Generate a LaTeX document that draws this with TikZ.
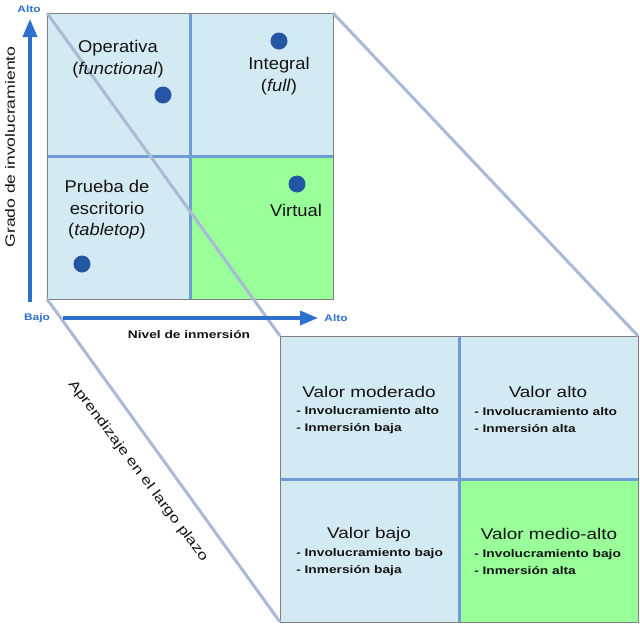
\documentclass[tikz,border=0pt]{standalone}
\usepackage{fontspec}
\setmainfont{Liberation Sans}
\usetikzlibrary{arrows.meta, positioning}

\definecolor{cellblue}{RGB}{212,234,242}
\definecolor{cellgreen}{RGB}{153,255,153}
\definecolor{splitblue}{RGB}{112,156,214}
\definecolor{linkgray}{RGB}{168,186,214}
\definecolor{axisblue}{RGB}{45,112,205}
\definecolor{dotblue}{RGB}{36,86,164}
\definecolor{inkblack}{RGB}{20,20,20}

\begin{document}
\begin{tikzpicture}[
        x=1pt, y=-1pt,
        square/.style={fill=cellblue, inner sep=0pt, outer sep=0pt},
        frame/.style={draw=gray, line width=0.8pt},
        split/.style={draw=splitblue, line width=3pt},
        link/.style={draw=linkgray, line width=3pt},
        axis/.style={draw=axisblue, line width=3.5pt, -{Triangle[length=18pt, width=14pt]}},
        dot/.style={circle, fill=dotblue, minimum size=17pt, inner sep=0pt},
        quadtext/.style={align=center, text=inkblack, font=\fontsize{17}{21.5}\selectfont, xscale=1.08, transform shape},
        valtitle/.style={text=inkblack, font=\fontsize{15.5}{18}\selectfont, xscale=1.22, transform shape},
        valitem/.style={align=left, anchor=west, inner sep=0pt, text=inkblack, font=\bfseries\fontsize{11}{17}\selectfont, xscale=1.25, transform shape},
        axislbl/.style={text=axisblue, font=\bfseries\fontsize{9.5}{11}\selectfont, xscale=1.25, transform shape},
        axistitle/.style={text=inkblack, font=\bfseries\fontsize{11}{12}\selectfont, xscale=1.25, transform shape},
        uptitle/.style={rotate=90, text=inkblack, font=\fontsize{13.5}{15}\selectfont, xscale=1.3, transform shape},
        slanttitle/.style={rotate=-53, text=inkblack, font=\fontsize{13.5}{15}\selectfont, xscale=1.28, transform shape}
    ]
    \useasboundingbox (0,0) rectangle (640,625);

    % upper matrix
    \node[square, minimum width=286pt, minimum height=286pt] (top) at (190,156) {};
    \fill[cellgreen] (top.center) rectangle (top.south east);
    \draw[split] (top.north) -- (top.south);
    \draw[split] (top.west) -- (top.east);
    \draw[frame] (top.north west) rectangle (top.south east);

    % lower matrix
    \node[square, minimum width=358pt, minimum height=286pt] (bot) at (459,479) {};
    \fill[cellgreen] (bot.center) rectangle (bot.south east);
    \draw[split] (bot.north) -- (bot.south);
    \draw[split] (bot.west) -- (bot.east);
    \draw[frame] (bot.north west) rectangle (bot.south east);

    % projection lines
    \draw[link] (top.north west) -- (bot.north west);
    \draw[link] (top.north east) -- (bot.north east);
    \draw[link] (top.south west) -- (bot.south west);

    % axes
    \coordinate (yfrom) at (30,302);
    \coordinate (yto) at (30,19);
    \coordinate (xfrom) at (63,318);
    \coordinate (xto) at (318,318);
    \draw[axis] (yfrom) -- (yto);
    \draw[axis] (xfrom) -- (xto);
    \node[axislbl] (yhigh) at (29,9) {Alto};
    \node[axislbl] (low) at (37,318) {Bajo};
    \node[axislbl] (xhigh) at (336,318) {Alto};
    \node[axistitle] (xtitle) at (189,335) {Nivel de inmersión};
    \node[uptitle] (ytitle) at (10,147) {Grado de involucramiento};
    \node[slanttitle] (ltitle) at (138,471) {Aprendizaje en el largo plazo};

    % exercise types
    \node[dot] (functional) at (163,95) {};
    \node[dot] (full) at (279,41) {};
    \node[dot] (virtual) at (297,184) {};
    \node[dot] (tabletop) at (82,264) {};
    \node[quadtext] (opl) at (118,59) {Operativa\\(\textit{functional})};
    \node[quadtext] (intl) at (279,76) {Integral\\(\textit{full})};
    \node[quadtext] (prul) at (107,210) {Prueba de\\escritorio\\(\textit{tabletop})};
    \node[quadtext] (virl) at (296,210) {Virtual};

    % value quadrants
    \node[valtitle] (vmod) at (369,392) {Valor moderado};
    \node[valitem] (imod) at (296,420) {- Involucramiento alto\\- Inmersión baja};
    \node[valtitle] (valt) at (548,392) {Valor alto};
    \node[valitem] (ialt) at (474,420) {- Involucramiento alto\\- Inmersión alta};
    \node[valtitle] (vbaj) at (369,534) {Valor bajo};
    \node[valitem] (ibaj) at (296,562) {- Involucramiento bajo\\- Inmersión baja};
    \node[valtitle] (vmed) at (549,534) {Valor medio-alto};
    \node[valitem] (imed) at (474,562) {- Involucramiento bajo\\- Inmersión alta};

\end{tikzpicture}
\end{document}
